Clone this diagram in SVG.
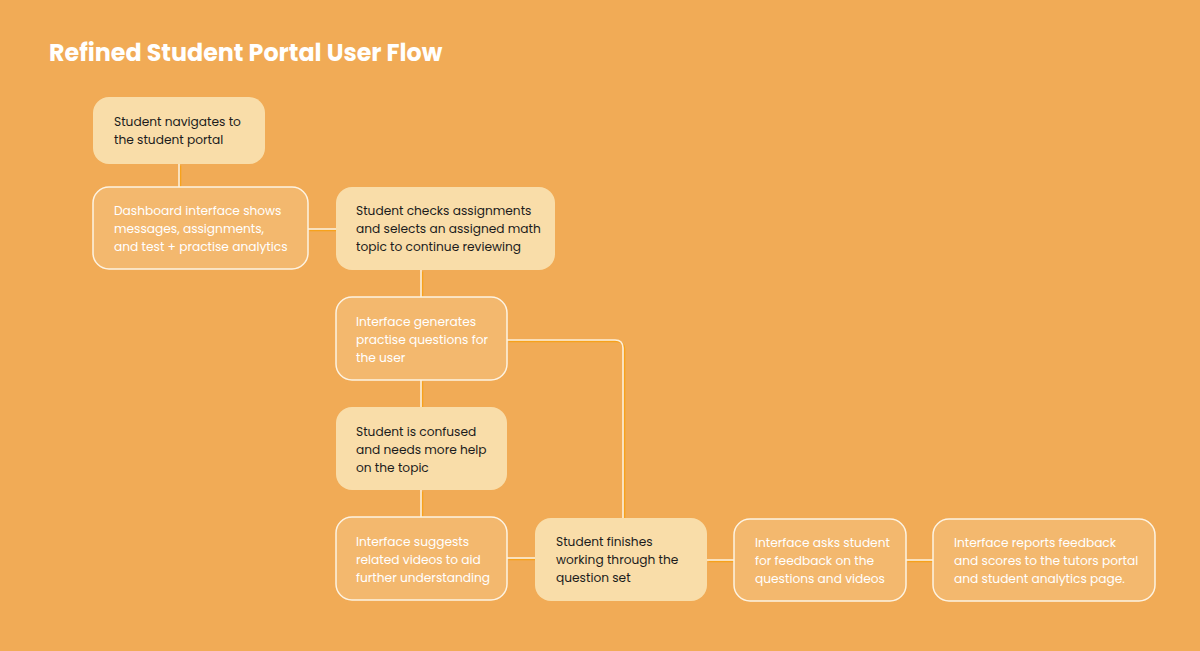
<svg xmlns="http://www.w3.org/2000/svg" width="1200" height="651" viewBox="0 0 1200 651">
<style>
.bg{fill:#f1ab56}
.light rect{fill:#f9dda9}
.mid rect{fill:#f3b86e;stroke:#fdf3e2;stroke-width:1.5}
text{font-family:"Poppins","Inter","Open Sans",sans-serif;font-size:12.2px;font-weight:400}
.light text{fill:#1c1c1c}
.mid text{fill:#ffffff}
.title{font-size:23.8px;font-weight:700;fill:#ffffff}
.c path{fill:none;stroke-width:1.6}
.sh path{stroke:#f7a21b}
.fg path{stroke:#fcefd9}
</style>
<rect class="bg" x="0" y="0" width="1200" height="651"/>
<text class="title" x="49" y="61">Refined Student Portal User Flow</text>
<g id="connectors" class="c">
<g class="sh" transform="translate(1.5,1.5)">
<path d="M179,164V187"/>
<path d="M308,229H336"/>
<path d="M421,270V297"/>
<path d="M421,380V407"/>
<path d="M421,490V517"/>
<path d="M507,558H535"/>
<path d="M507,340H615Q623,340 623,348V518"/>
<path d="M707,560H734"/>
<path d="M906,560H933"/>
</g>
<g class="fg">
<path d="M179,164V187"/>
<path d="M308,229H336"/>
<path d="M421,270V297"/>
<path d="M421,380V407"/>
<path d="M421,490V517"/>
<path d="M507,558H535"/>
<path d="M507,340H615Q623,340 623,348V518"/>
<path d="M707,560H734"/>
<path d="M906,560H933"/>
</g>
</g>
<g id="n1" class="light">
<rect x="93" y="97" width="172" height="67" rx="16"/>
<text x="114" y="126">Student navigates to</text>
<text x="114" y="144">the student portal</text>
</g>
<g id="n2" class="mid">
<rect x="93" y="187" width="215" height="82" rx="16"/>
<text x="114" y="215">Dashboard interface shows</text>
<text x="114" y="233">messages, assignments,</text>
<text x="114" y="251">and test + practise analytics</text>
</g>
<g id="n3" class="light">
<rect x="336" y="187" width="219" height="83" rx="16"/>
<text x="356" y="215">Student checks assignments</text>
<text x="356" y="233">and selects an assigned math</text>
<text x="356" y="251">topic to continue reviewing</text>
</g>
<g id="n4" class="mid">
<rect x="336" y="297" width="171" height="83" rx="16"/>
<text x="356" y="326">Interface generates</text>
<text x="356" y="344">practise questions for</text>
<text x="356" y="362">the user</text>
</g>
<g id="n5" class="light">
<rect x="336" y="407" width="171" height="83" rx="16"/>
<text x="356" y="436">Student is confused</text>
<text x="356" y="454">and needs more help</text>
<text x="356" y="472">on the topic</text>
</g>
<g id="n6" class="mid">
<rect x="336" y="517" width="171" height="83" rx="16"/>
<text x="356" y="546">Interface suggests</text>
<text x="356" y="564">related videos to aid</text>
<text x="356" y="582">further understanding</text>
</g>
<g id="n7" class="light">
<rect x="535" y="518" width="172" height="83" rx="16"/>
<text x="556" y="546">Student finishes</text>
<text x="556" y="564">working through the</text>
<text x="556" y="582">question set</text>
</g>
<g id="n8" class="mid">
<rect x="734" y="519" width="172" height="82" rx="16"/>
<text x="755" y="547">Interface asks student</text>
<text x="755" y="565">for feedback on the</text>
<text x="755" y="583">questions and videos</text>
</g>
<g id="n9" class="mid">
<rect x="933" y="519" width="222" height="82" rx="16"/>
<text x="954" y="547">Interface reports feedback</text>
<text x="954" y="565">and scores to the tutors portal</text>
<text x="954" y="583">and student analytics page.</text>
</g>
</svg>
